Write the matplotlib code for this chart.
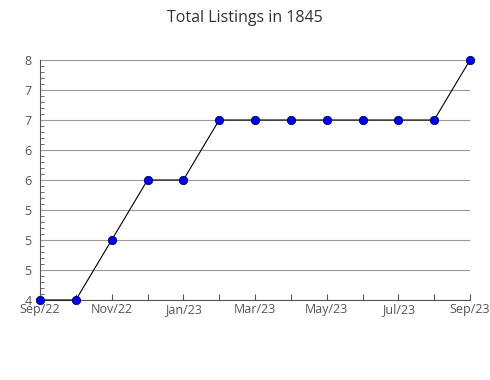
import matplotlib.pyplot as plt
from matplotlib.ticker import MultipleLocator

plt.rcParams['font.family'] = ['Open Sans', 'DejaVu Sans']

months = ['Sep/22', 'Oct/22', 'Nov/22', 'Dec/22', 'Jan/23', 'Feb/23', 'Mar/23',
          'Apr/23', 'May/23', 'Jun/23', 'Jul/23', 'Aug/23', 'Sep/23']
listings = [4, 4, 5, 6, 6, 7, 7, 7, 7, 7, 7, 7, 8]
ytick_vals = [4, 4.5, 5, 5.5, 6, 6.5, 7, 7.5, 8]
ytick_labels = ['4', '5', '5', '5', '6', '6', '7', '7', '8']

fig = plt.figure(figsize=(4.9, 3.8), dpi=100)
ax = fig.add_axes([40 / 490, 80 / 380, 430 / 490, 240 / 380])

x = list(range(len(months)))
ax.plot(x, listings, color='black', linewidth=0.8, marker='o', markersize=6,
        markerfacecolor='#0000ee', markeredgecolor='#000066', markeredgewidth=0.6,
        zorder=5, clip_on=False)

ax.set_xlim(0, len(months) - 1)
ax.set_ylim(4, 8)
ax.set_xticks(x)
ax.set_xticklabels([m if i % 2 == 0 else '' for i, m in enumerate(months)])
ax.set_yticks(ytick_vals)
ax.set_yticklabels(ytick_labels)
ax.yaxis.set_minor_locator(MultipleLocator(0.1))

ax.grid(axis='y', color='#999999', linewidth=0.8)
ax.set_axisbelow(True)
for side in ['top', 'right']:
    ax.spines[side].set_visible(False)
for side in ['left', 'bottom']:
    ax.spines[side].set_color('#555555')
    ax.spines[side].set_linewidth(0.8)

ax.tick_params(axis='x', direction='in', length=4, color='#555555',
               labelsize=9, labelcolor='#555555', pad=2)
ax.tick_params(axis='y', which='major', direction='in', length=0,
               labelsize=9, labelcolor='#555555', pad=6)
ax.tick_params(axis='y', which='minor', direction='in', length=3, color='#555555')

fig.suptitle('Total Listings in 1845', y=0.975, fontsize=11.5, color='#333333')

fig.savefig('out.png', dpi=100)
